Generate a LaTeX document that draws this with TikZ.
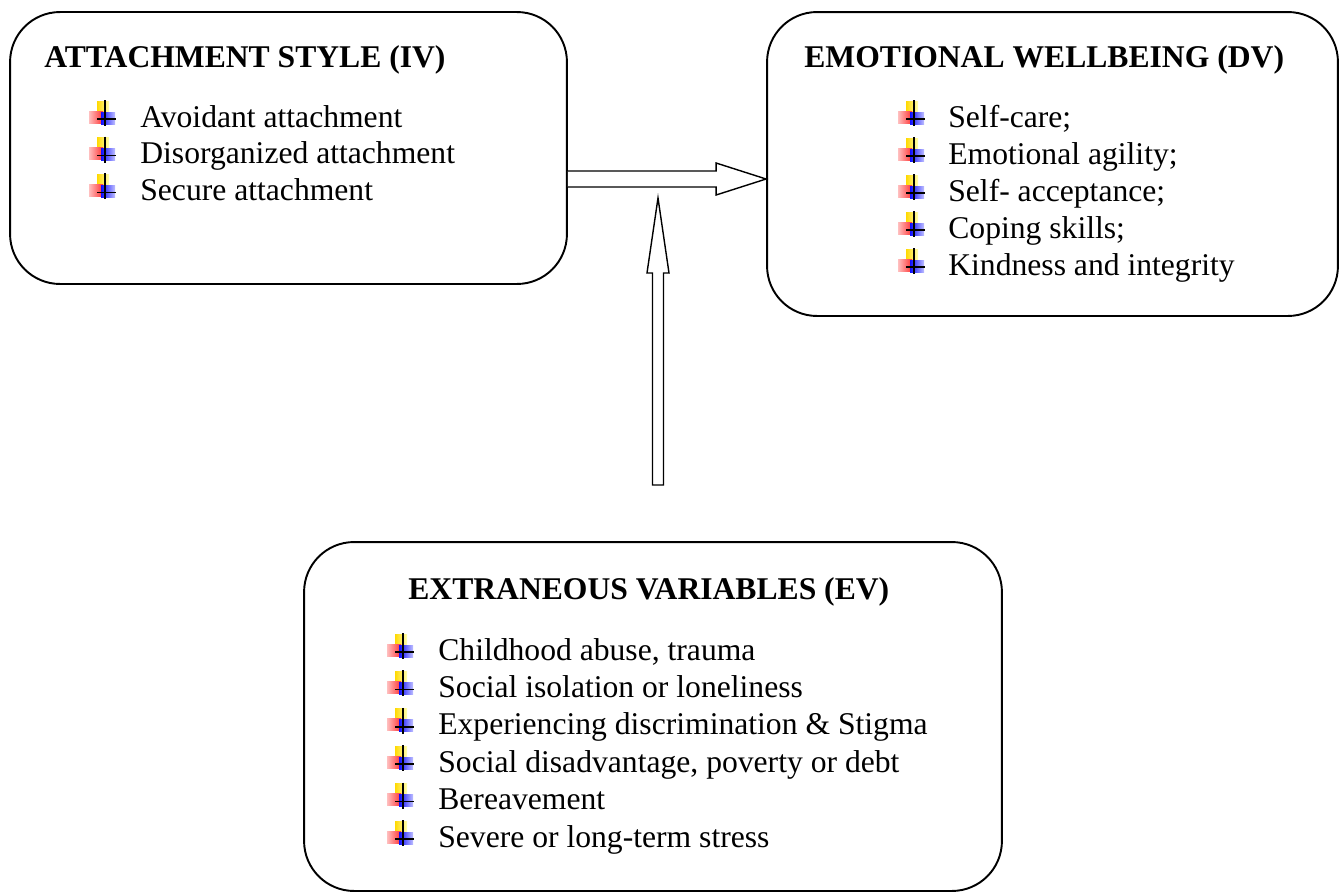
\documentclass[tikz,border=0pt]{standalone}
\usepackage{fontspec}
\setmainfont{Liberation Serif}
\usetikzlibrary{calc}

\tikzset{
    wingbullet/.pic={
        \shade[left color=yellow!70!orange, right color=yellow!30] (7,-26) rectangle (19,-14);
        \shade[left color=red!25, right color=red!80] (-1,-16) rectangle (13,-4);
        \shade[left color=blue!95, right color=blue!25] (11,-15) rectangle (25,-3);
        \draw[line width=0.9pt] (15,-27) -- (15,-1);
        \draw[line width=0.9pt] (7,-8) -- (26,-8);
    }
}

\begin{document}
\begin{tikzpicture}[x=0.02cm, y=-0.02cm, font=\fontsize{18}{22}\selectfont]

    \useasboundingbox (0,0) rectangle (1340,893);

        \begin{scope}[every node/.style={draw,line width=1.1pt,rounded corners=1cm,inner sep=0pt}]
            \node[minimum width=11.14cm, minimum height=5.44cm] (att) at (288.5,148) {};
            \node[minimum width=11.42cm, minimum height=6.08cm] (ewb) at (1052.5,164) {};
            \node[minimum width=13.96cm, minimum height=6.98cm] (ext) at (653,716.5) {};
        \end{scope}

        \begin{scope}[every node/.style={anchor=base west,inner sep=0pt}]
            \node[font=\fontsize{18}{22}\selectfont\bfseries] (att-title) at (44,67) {ATTACHMENT STYLE (IV)};
            \node[font=\fontsize{18}{22}\selectfont\bfseries] (ewb-title) at (804,67) {EMOTIONAL WELLBEING (DV)};
            \node[font=\fontsize{18}{22}\selectfont\bfseries] (ext-title) at (408,599) {EXTRANEOUS VARIABLES (EV)};

            \foreach \txt [count=\i] in {Avoidant attachment, Disorganized attachment, Secure attachment} {
                \node (att-\i) at (140,90.3+36.7*\i) {\txt};
                \pic at (90,90.3+36.7*\i) {wingbullet};
            }
            \foreach \txt [count=\i] in {Self-care;, Emotional agility;, Self- acceptance;, Coping skills;, Kindness and integrity} {
                \node (ewb-\i) at (948,90+37*\i) {\txt};
                \pic at (899,90+37*\i) {wingbullet};
            }
            \foreach \txt [count=\i] in {{Childhood abuse, trauma}, Social isolation or loneliness, Experiencing discrimination \& Stigma, {Social disadvantage, poverty or debt}, Bereavement, Severe or long-term stress} {
                \node (ext-\i) at (438,622.6+37.4*\i) {\txt};
                \pic at (388,622.6+37.4*\i) {wingbullet};
            }
        \end{scope}

        \begin{scope}[every path/.style={draw,fill=white,line width=0.8pt,line join=miter}]
            \coordinate (hs) at (att.east |- 0,179);
            \coordinate (ht) at (ewb.west |- 0,179);
            \path ($(hs)+(0,-8)$) -- ($(ht)+(-50,-8)$) -- ($(ht)+(-50,-16)$) -- (ht)
                -- ($(ht)+(-50,16)$) -- ($(ht)+(-50,8)$) -- ($(hs)+(0,8)$);

            \coordinate (vt) at (658,198);
            \coordinate (vb) at (658,485);
            \path (vt) -- ($(vt)+(11,75)$) -- ($(vt)+(5.5,75)$) -- ($(vb)+(5.5,0)$)
                -- ($(vb)+(-5.5,0)$) -- ($(vt)+(-5.5,75)$) -- ($(vt)+(-11,75)$) -- cycle;
        \end{scope}

    \end{tikzpicture}
\end{document}
